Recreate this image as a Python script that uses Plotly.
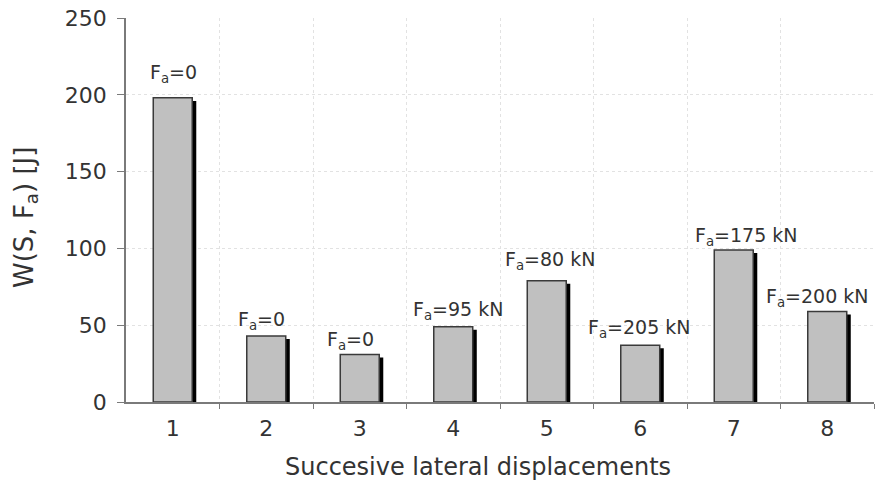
import plotly.graph_objects as go

# Successive lateral displacement runs and the energy W(S, Fa) measured in each
runs = [1, 2, 3, 4, 5, 6, 7, 8]
run_labels = ["1", "2", "3", "4", "5", "6", "7", "8"]
energy_j = [198, 43, 31, 49, 79, 37, 99, 59]
axial_force = ["F<sub>a</sub>=0", "F<sub>a</sub>=0", "F<sub>a</sub>=0",
               "F<sub>a</sub>=95 kN", "F<sub>a</sub>=80 kN", "F<sub>a</sub>=205 kN",
               "F<sub>a</sub>=175 kN", "F<sub>a</sub>=200 kN"]
y_ticks = [0, 50, 100, 150, 200, 250]

# label nudges in pixels (horizontal, vertical above the bar top)
label_dx = [1, -5, -9, 5, 3, -1, 13, -10]
label_dy = [24, 15, 14, 16, 20, 17, 13, 14]

FONT = "DejaVu Sans"
TEXT = "#333333"
GRID = "#e2e2e2"
AXIS = "#7a7a7a"
BAR_W = 0.417
SHADOW_DX = 0.043   # shadow shift to the right (x units)
SHADOW_DROP = 2.0   # shadow starts a little below the bar top (y units)

W, H = 876, 483
M_L, M_R, M_T, M_B = 126, 2, 18, 81

fig = go.Figure()

# black drop shadow behind each bar
fig.add_trace(go.Bar(
    x=runs, y=[v - SHADOW_DROP for v in energy_j],
    width=BAR_W, offset=-BAR_W / 2 + SHADOW_DX,
    marker=dict(color="#000000", line=dict(width=0)),
    hoverinfo="skip", showlegend=False,
))
# grey bars
fig.add_trace(go.Bar(
    x=runs, y=energy_j,
    width=BAR_W, offset=-BAR_W / 2,
    marker=dict(color="#c0c0c0", line=dict(color="#3a3a3a", width=1.5)),
    showlegend=False,
))

for x, v, t, dx, dy in zip(runs, energy_j, axial_force, label_dx, label_dy):
    fig.add_annotation(
        x=x, y=v, text=t, showarrow=False,
        xanchor="center", yanchor="middle", xshift=dx, yshift=dy,
        font=dict(family=FONT, size=19, color=TEXT),
    )

# axis titles placed in paper space
plot_w = W - M_L - M_R
plot_h = H - M_T - M_B
fig.add_annotation(
    text="Succesive lateral displacements", showarrow=False,
    xref="paper", yref="paper",
    x=(478 - M_L) / plot_w, y=-(467 - (H - M_B)) / plot_h,
    xanchor="center", yanchor="middle",
    font=dict(family=FONT, size=24, color=TEXT),
)
fig.add_annotation(
    text="W(S, F<sub>a</sub>) [J]", showarrow=False, textangle=-90,
    xref="paper", yref="paper",
    x=-(M_L - 26) / plot_w, y=((H - M_B) - 218) / plot_h,
    xanchor="center", yanchor="middle",
    font=dict(family=FONT, size=26, color=TEXT),
)

fig.update_layout(
    width=W, height=H,
    margin=dict(l=M_L, r=M_R, t=M_T, b=M_B, autoexpand=False),
    barmode="overlay",
    plot_bgcolor="white", paper_bgcolor="white",
    font=dict(family=FONT, color=TEXT),
)

fig.update_xaxes(
    range=[0.5, 8.5],
    tickmode="array", tickvals=runs, ticktext=run_labels,
    ticks="", showgrid=False, zeroline=False,
    tickfont=dict(family=FONT, size=22, color=TEXT),
    ticklabelstandoff=6,
    showline=True, linecolor=AXIS, linewidth=1.5,
    minor=dict(tickmode="array", tickvals=[1.5, 2.5, 3.5, 4.5, 5.5, 6.5, 7.5, 8.5],
               ticks="outside", ticklen=5, tickcolor=AXIS, tickwidth=1,
               showgrid=True, gridcolor=GRID, griddash="dot", gridwidth=1),
)

fig.update_yaxes(
    range=[0, 250],
    tickmode="array", tickvals=y_ticks,
    ticks="outside", ticklen=7, tickcolor=AXIS,
    tickfont=dict(family=FONT, size=22, color=TEXT),
    ticklabelstandoff=6,
    showline=True, linecolor=AXIS, linewidth=1.5,
    showgrid=True, gridcolor=GRID, griddash="dot", gridwidth=1,
    zeroline=False,
)

fig.write_html("out.html")
